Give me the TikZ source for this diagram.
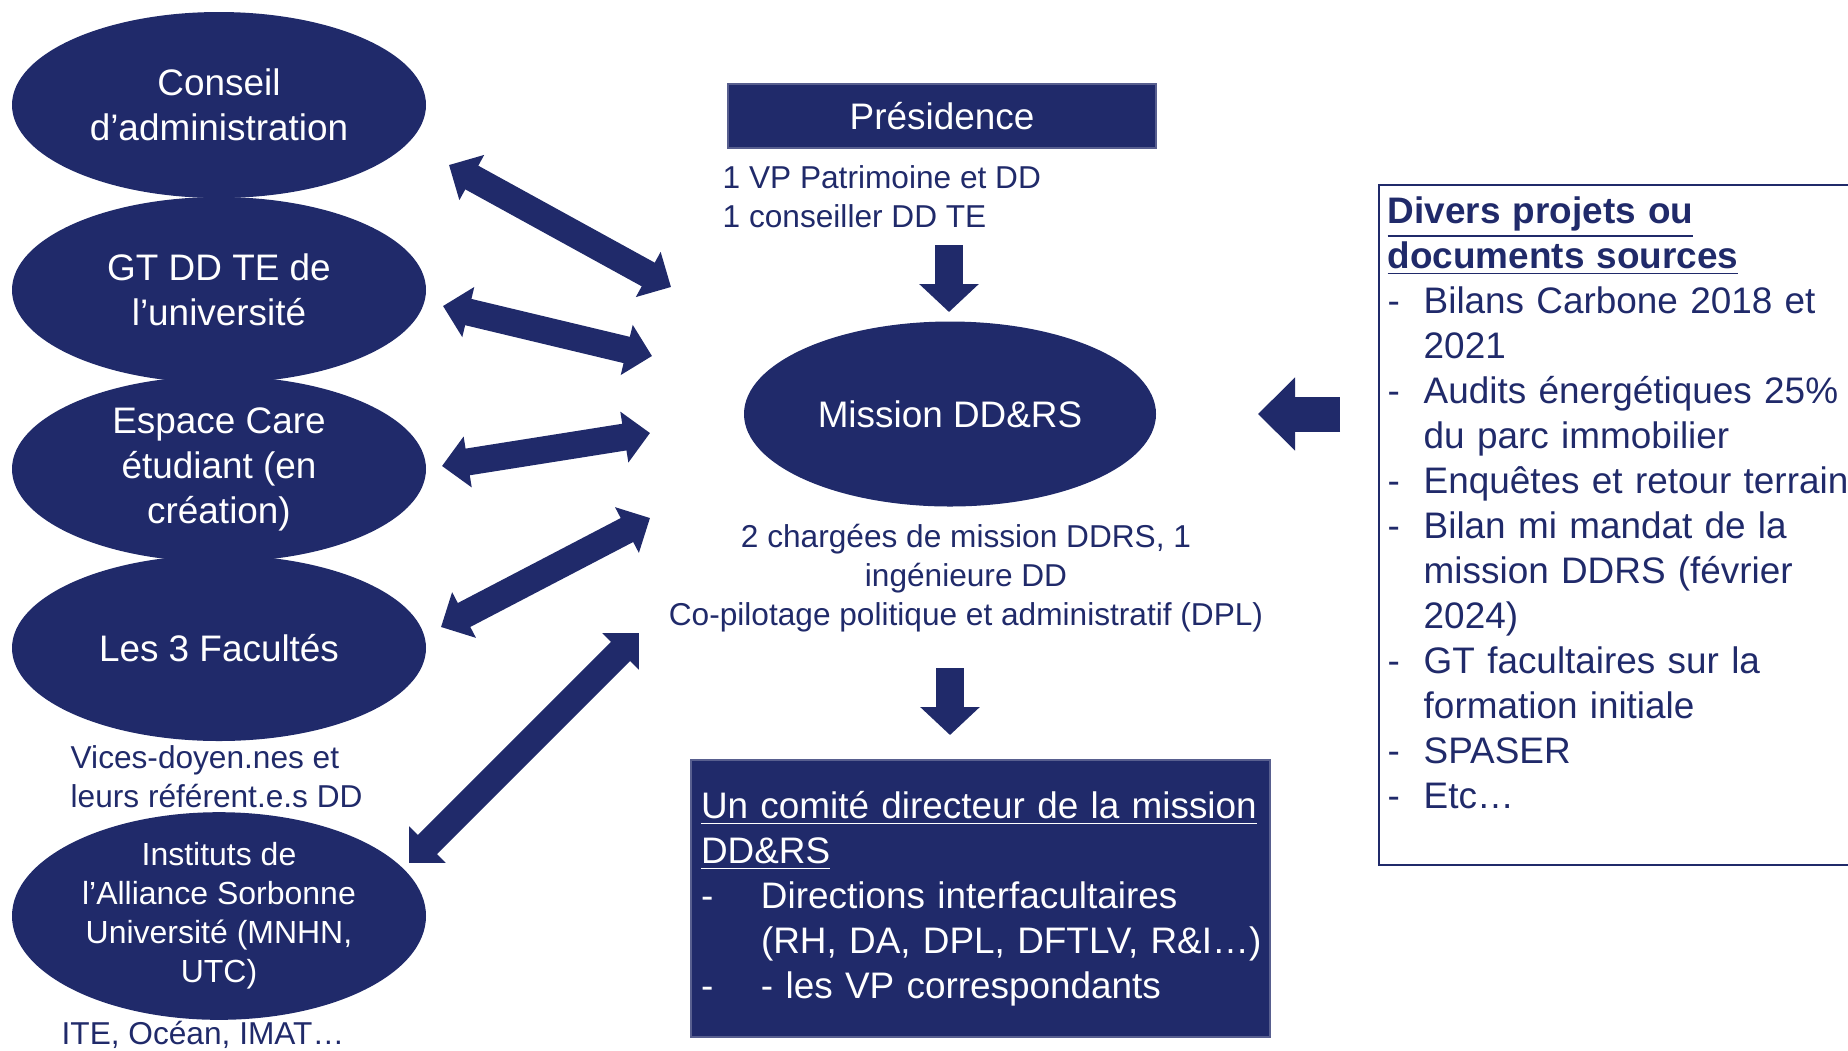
\documentclass[tikz,border=0pt]{standalone}
\usepackage{fontspec}
\setmainfont{Liberation Sans}
\usetikzlibrary{shapes.geometric,arrows.meta}
\definecolor{bleu}{HTML}{202A6A}
\newcommand{\tiret}[1]{\makebox[#1][l]{-}}
\begin{document}
\begin{tikzpicture}[x=1cm,y=1cm,
  bulle/.style={ellipse,fill=bleu,text=white,minimum width=4.14cm,minimum height=1.86cm,inner sep=0pt,align=center,font=\fontsize{10.5}{12.8}\selectfont},
  boite/.style={rectangle,fill=bleu,draw=bleu!75!white,line width=0.4pt,text=white,font=\fontsize{10.5}{12.8}\selectfont},
  legende/.style={text=bleu,inner sep=0pt,font=\fontsize{9}{11.1}\selectfont},
  double fleche/.style={draw=bleu,line width=2.7mm,{Triangle[length=2.6mm,width=5mm]}-{Triangle[length=2.6mm,width=5mm]}},
  fleche/.style={draw=bleu,line width=2.8mm,-{Triangle[length=2.8mm,width=5.8mm]}}]
\useasboundingbox (0,0) rectangle (18.48,-10.50);
% acteurs a gauche
\node[bulle] (conseil) at (2.19,-1.05) {Conseil\\d’administration};
\node[bulle] (gt) at (2.19,-2.90) {GT DD TE de\\l’université};
\node[bulle] (care) at (2.19,-4.69) {Espace Care\\étudiant (en\\création)};
\node[bulle] (facultes) at (2.19,-6.48) {Les 3 Facultés};
\node[bulle,font=\fontsize{9.1}{11.1}\selectfont] (instituts) at (2.19,-9.16) {Instituts de\\l’Alliance Sorbonne\\Université (MNHN,\\UTC)};
\node[legende,anchor=west,align=left] (facnote) at (0.70,-7.765) {Vices-doyen.nes et\\leurs référent.e.s DD};
\node[legende,anchor=west] (instnote) at (0.61,-10.345) {ITE, Océan, IMAT…};
% centre
\node[boite,minimum width=4.28cm,minimum height=0.64cm] (pres) at (9.42,-1.16) {Présidence};
\node[legende,anchor=west,align=left] (presnote) at (7.22,-1.965) {1 VP Patrimoine et DD\\1 conseiller DD TE};
\node[bulle,minimum width=4.12cm,minimum height=1.85cm] (mission) at (9.50,-4.14) {Mission DD\&RS};
\node[legende,align=center] (missnote) at (9.66,-5.785) {2 chargées de mission DDRS, 1\\ingénieure DD\\Co-pilotage politique et administratif (DPL)};
\node[boite,minimum width=5.79cm,minimum height=2.77cm,text width=5.59cm,inner xsep=1mm,align=left] (comite) at (9.805,-8.985) {\underline{Un comité directeur de la mission}\\
\underline{DD\&RS}\\
\tiret{6mm}Directions interfacultaires\\
\hspace*{6mm}\mbox{(RH, DA, DPL, DFTLV, R\&I…)}\\
\tiret{6mm}- les VP correspondants};
% sources a droite
\draw[bleu,line width=0.6pt] (18.48,-1.85) -- (13.79,-1.85) -- (13.79,-8.65) -- (18.48,-8.65);
\node[text=bleu,anchor=north west,inner sep=0pt,text width=4.65cm,align=left,font=\fontsize{10.5}{12.8}\selectfont] (src) at (13.87,-1.96) {\textbf{\underline{Divers projets ou}}\\
\textbf{\underline{documents sources}}\\
\tiret{3.6mm}Bilans Carbone 2018 et\\
\hspace*{3.6mm}2021\\
\tiret{3.6mm}Audits énergétiques 25\%\\
\hspace*{3.6mm}du parc immobilier\\
\tiret{3.6mm}Enquêtes et retour terrain\\
\tiret{3.6mm}Bilan mi mandat de la\\
\hspace*{3.6mm}mission DDRS (février\\
\hspace*{3.6mm}2024)\\
\tiret{3.6mm}GT facultaires sur la\\
\hspace*{3.6mm}formation initiale\\
\tiret{3.6mm}SPASER\\
\tiret{3.6mm}Etc…};
% extremites des fleches
\coordinate (a1) at (4.49,-1.65);
\coordinate (b1) at (6.71,-2.87);
\coordinate (a2) at (4.43,-3.06);
\coordinate (b2) at (6.52,-3.56);
\coordinate (a3) at (4.42,-4.66);
\coordinate (b3) at (6.50,-4.33);
\coordinate (a4) at (4.41,-6.27);
\coordinate (b4) at (6.50,-5.18);
\coordinate (a5) at (4.09,-8.63);
\coordinate (b5) at (6.39,-6.33);
\coordinate (p1) at (9.49,-2.45);
\coordinate (p2) at (9.49,-3.12);
\coordinate (m1) at (9.50,-6.68);
\coordinate (m2) at (9.50,-7.35);
\coordinate (s1) at (13.40,-4.14);
\coordinate (s2) at (12.58,-4.14);
\draw[double fleche] (a1) -- (b1);
\draw[double fleche] (a2) -- (b2);
\draw[double fleche] (a3) -- (b3);
\draw[double fleche] (a4) -- (b4);
\draw[double fleche] (a5) -- (b5);
\draw[fleche] (p1) -- (p2);
\draw[fleche] (m1) -- (m2);
\draw[fleche,line width=3.5mm,-{Triangle[length=3.7mm,width=7.1mm]}] (s1) -- (s2);
\end{tikzpicture}
\end{document}
